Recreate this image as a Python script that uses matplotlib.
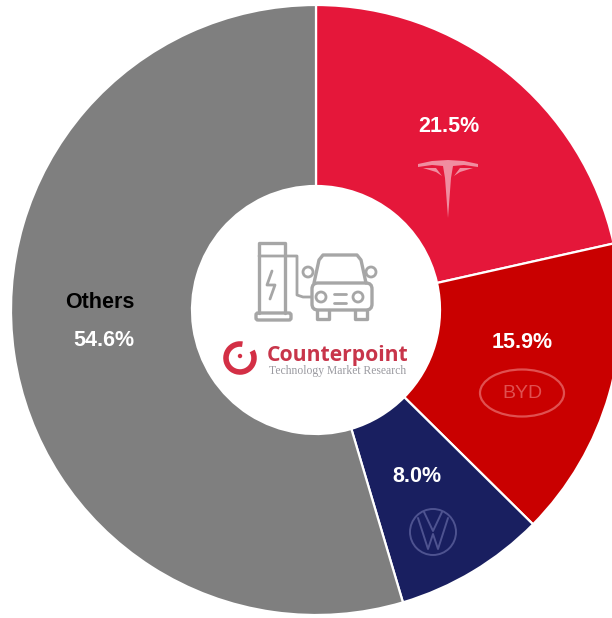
import matplotlib
matplotlib.use("Agg")
import matplotlib.pyplot as plt
from matplotlib.patches import Arc, Circle, Ellipse, FancyBboxPatch, Polygon

brands = ["Tesla", "BYD", "Volkswagen", "Others"]
shares = [21.5, 15.9, 8.0, 54.6]
share_labels = ["21.5%", "15.9%", "8.0%", "54.6%"]
colors = ["#E5173A", "#C90000", "#191F60", "#7F7F7F"]

W, H = 612, 618
fig = plt.figure(figsize=(W / 100, H / 100), dpi=100, facecolor="white")
ax = fig.add_axes([0, 0, 1, 1])


def Y(py):
    """Convert a top-down pixel row to the axes' bottom-up coordinate."""
    return H - py


ax.pie(
    shares,
    colors=colors,
    startangle=90,
    counterclock=False,
    center=(316, Y(310)),
    radius=305,
    frame=True,
    wedgeprops=dict(width=181, edgecolor="white", linewidth=1.6),
)
ax.set_xlim(0, W)
ax.set_ylim(0, H)
ax.set_aspect("equal")
ax.axis("off")
plt.rcParams["font.family"] = ["Liberation Sans", "DejaVu Sans"]

# Share labels
label_style = dict(color="white", fontsize=15.5, fontweight="bold", ha="center", va="center")
ax.text(449, Y(127), share_labels[0], **label_style)
ax.text(522, Y(342), share_labels[1], **label_style)
ax.text(417, Y(476), share_labels[2], **label_style)
ax.text(104, Y(341), share_labels[3], **label_style)
ax.text(100, Y(302), brands[3], color="black", fontsize=15.5, fontweight="bold", ha="center", va="center")


def path(points, color, lw, **kw):
    xs = [p[0] for p in points]
    ys = [Y(p[1]) for p in points]
    ax.plot(xs, ys, color=color, lw=lw, solid_capstyle="round", solid_joinstyle="round", **kw)


# Tesla emblem
pink = "#F08DA0"
ax.add_patch(Polygon(
    [(x, Y(y)) for x, y in [
        (418, 164), (432, 161), (448, 160), (464, 161), (478, 164), (478, 167),
        (464, 165), (453, 166), (451, 178), (448, 218), (445, 178), (443, 166),
        (432, 165), (418, 167),
    ]],
    closed=True, facecolor=pink, edgecolor="none",
))
ax.add_patch(Polygon(
    [(x, Y(y)) for x, y in [(423, 168), (436, 168), (442, 176), (436, 172)]],
    closed=True, facecolor=pink, edgecolor="none",
))
ax.add_patch(Polygon(
    [(x, Y(y)) for x, y in [(473, 168), (460, 168), (454, 176), (460, 172)]],
    closed=True, facecolor=pink, edgecolor="none",
))

# BYD emblem
byd_line = "#E05050"
ax.add_patch(Ellipse((522, Y(393)), 84, 47, fill=False, edgecolor=byd_line, lw=1.6))
ax.text(522, Y(393), "BYD", color=byd_line, fontsize=14, ha="center", va="center")

# Volkswagen emblem
vw_line = "#4E5390"
ax.add_patch(Circle((433, Y(532)), 23, fill=False, edgecolor=vw_line, lw=1.4))
path([(418, 518), (428, 549), (433, 534), (438, 549), (448, 518)], vw_line, 1.4)
path([(424, 512), (433, 531), (442, 512)], vw_line, 1.4)

# Charging station icon
icon = "#A6A6A6"
path([(259, 313), (259, 243), (285, 243), (285, 313)], icon, 2.4)
path([(259, 256), (297, 256), (297, 295), (303, 297), (311, 297)], icon, 2.0)
ax.add_patch(FancyBboxPatch((256, Y(320)), 35, 7, boxstyle="round,pad=0,rounding_size=2",
                            fill=False, edgecolor=icon, lw=2.4))
path([(272, 271), (267, 285), (275, 285), (270, 299)], icon, 2.0)

# Car icon
path([(314, 283), (319, 260), (323, 255), (357, 255), (361, 260), (366, 283)], icon, 2.4)
ax.add_patch(FancyBboxPatch((312, Y(310)), 60, 27, boxstyle="round,pad=0,rounding_size=6",
                            fill=False, edgecolor=icon, lw=2.4))
path([(317, 310), (317, 319), (329, 319), (329, 310)], icon, 2.4)
path([(355, 310), (355, 319), (367, 319), (367, 310)], icon, 2.4)
ax.add_patch(Circle((321, Y(297)), 5, fill=False, edgecolor=icon, lw=2))
ax.add_patch(Circle((358, Y(297)), 5, fill=False, edgecolor=icon, lw=2))
path([(334, 294), (346, 294)], icon, 2)
path([(334, 303), (346, 303)], icon, 2)
ax.add_patch(Circle((308, Y(272)), 5, fill=False, edgecolor=icon, lw=2))
ax.add_patch(Circle((371, Y(272)), 5, fill=False, edgecolor=icon, lw=2))

# Counterpoint wordmark
brand_red = "#D32F45"
ax.add_patch(Arc((240, Y(358)), 28, 28, theta1=80, theta2=30, edgecolor=brand_red, lw=4))
ax.add_patch(Circle((240, Y(356)), 2.2, facecolor=brand_red, edgecolor="none"))
ax.text(338, Y(356), "Counterpoint", color="#C8354A", fontsize=15.2, fontweight="bold",
        family="Open Sans", ha="center", va="center")
ax.text(338, Y(371), "Technology Market Research", color="#9A9AA0", fontsize=8.4,
        family="Liberation Serif", ha="center", va="center")

fig.savefig("out.png", dpi=100, facecolor="white")
